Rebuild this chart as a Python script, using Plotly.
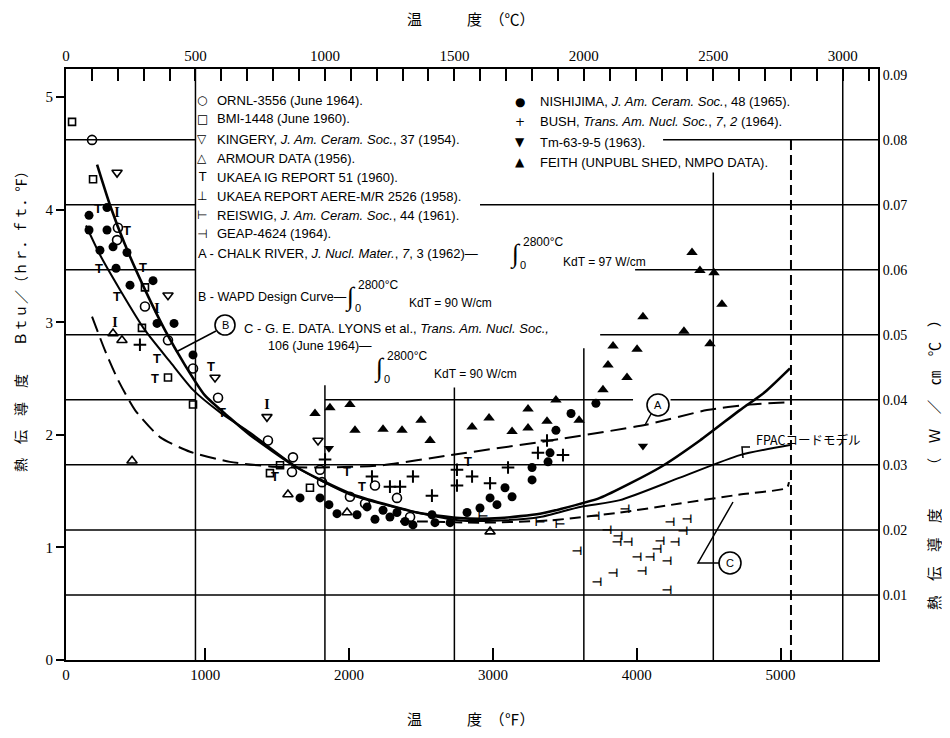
import plotly.graph_objects as go

# ---------------- data: temperature (°F), conductivity (Btu/(hr·ft·°F)) ----------------
ornl_f = [213, 393, 387, 581, 741, 915, 1089, 1436, 1610, 1603, 1798, 1812, 2006, 2111, 2180, 2333, 2424]
ornl_k = [4.62, 3.84, 3.73, 3.14, 2.84, 2.59, 2.33, 1.95, 1.80, 1.67, 1.69, 1.58, 1.45, 1.39, 1.55, 1.44, 1.27]

bmi_f = [74, 220, 581, 560, 741, 915, 1450, 1520, 1728]
bmi_k = [4.78, 4.27, 3.31, 2.95, 2.51, 2.27, 1.66, 1.73, 1.53]

kingery_f = [387, 741, 1068, 1429, 1784]
kingery_k = [4.33, 3.24, 2.51, 2.16, 1.95]

armour_f = [359, 421, 491, 1575, 1986, 2980]
armour_k = [2.90, 2.84, 1.77, 1.47, 1.31, 1.14]

ukaea_ig_f = [254, 456, 261, 567, 387, 665, 651, 1040, 1117, 1485, 1986, 2090, 2827]
ukaea_ig_k = [4.00, 3.80, 3.47, 3.48, 3.22, 2.67, 2.49, 2.60, 2.19, 1.62, 1.66, 1.53, 1.75]

ukaea_rep_f = [387, 665, 373, 1429]
ukaea_rep_k = [3.97, 3.11, 2.99, 2.26]

reiswig_f = [2931, 3327, 3466]
reiswig_k = [1.27, 1.22, 1.20]

geap_f = [3918, 3793, 3869, 3862, 3939, 4231, 4349, 4321, 4161, 4266, 4141, 4002, 4092, 4210,
          4036, 3835, 3723, 4210, 3585, 3710]
geap_k = [1.33, 1.15, 1.09, 1.04, 1.04, 1.22, 1.24, 1.14, 1.05, 1.04, 0.98, 0.91, 0.91, 0.87,
          0.78, 0.76, 0.68, 0.61, 0.96, 1.27]

nishijima_f = [192, 192, 317, 317, 268, 359, 456, 380, 477, 637, 665, 783, 915, 1659, 1798, 1860,
               1916, 2055, 2125, 2180, 2236, 2284, 2333, 2389, 2444, 2576, 2597, 2702, 2820, 2910,
               2980, 3028, 3084, 3133, 3272, 3272, 3383, 3397, 3438, 3543, 3716]
nishijima_k = [3.95, 3.82, 4.02, 3.82, 3.64, 3.67, 3.62, 3.48, 3.33, 3.37, 2.99, 2.99, 2.71, 1.44,
               1.44, 1.38, 1.30, 1.29, 1.36, 1.25, 1.33, 1.27, 1.31, 1.23, 1.20, 1.29, 1.22, 1.22,
               1.31, 1.35, 1.44, 1.38, 1.53, 1.45, 1.60, 1.71, 1.76, 1.84, 2.04, 2.19, 2.28]

bush_f = [546, 1833, 2159, 2444, 2576, 2284, 2354, 2750, 2750, 2855, 2980, 3105, 3313, 3376, 3487]
bush_k = [2.80, 1.78, 1.63, 1.63, 1.46, 1.54, 1.54, 1.69, 1.55, 1.63, 1.57, 1.71, 1.84, 1.95, 1.82]

tm_f = [1860, 4043]
tm_k = [1.88, 1.90]

feith_f = [1763, 1867, 2006, 2041, 2236, 2368, 2500, 2563, 2855, 2973, 3133, 3244, 3244, 3376,
           3438, 3599, 3765, 3800, 3932, 3835, 4002, 4043, 4328, 4509, 4384, 4439, 4537, 4592]
feith_k = [2.19, 2.24, 2.27, 2.04, 2.05, 2.04, 2.13, 1.95, 2.07, 2.15, 2.03, 2.23, 2.06, 2.12,
           2.31, 2.13, 2.40, 2.62, 2.51, 2.79, 2.76, 3.05, 2.92, 2.81, 3.62, 3.46, 3.44, 3.16]

# curves
curve_b_f = [248, 338, 442, 581, 720, 859, 998, 1172, 1311, 1638, 2006, 2472, 2771, 3049, 3327,
             3466, 3744, 4161, 4439, 4717, 4891, 5065]
curve_b_k = [4.40, 4.04, 3.69, 3.29, 2.93, 2.62, 2.35, 2.15, 2.00, 1.71, 1.48, 1.31, 1.26, 1.26,
             1.30, 1.34, 1.44, 1.71, 1.95, 2.22, 2.38, 2.59]

fpac_f = [171, 268, 407, 581, 755, 915, 1103, 1311, 1638, 2006, 2472, 2771, 3049, 3327, 3605,
          3883, 4300, 4717, 5065]
fpac_k = [3.86, 3.60, 3.29, 2.93, 2.65, 2.40, 2.20, 2.02, 1.71, 1.47, 1.31, 1.24, 1.24, 1.27,
          1.36, 1.42, 1.62, 1.82, 1.91]

curve_a_f = [213, 303, 393, 512, 685, 894, 1172, 1450, 1798, 2229, 2702, 3397, 4064, 4488, 4787, 5065]
curve_a_k = [3.05, 2.75, 2.49, 2.22, 1.98, 1.85, 1.76, 1.72, 1.71, 1.73, 1.82, 1.95, 2.09, 2.22, 2.27, 2.29]

curve_c_f = [2354, 2542, 2910, 3397, 3883, 4300, 4717, 5044, 5058]
curve_c_k = [1.23, 1.23, 1.22, 1.24, 1.31, 1.39, 1.47, 1.53, 1.58]

# axes
F_MIN, F_MAX = 32, 5677
K_MAX = 5.25
BTU_TO_W = 0.017307
f_ticks = [32, 1000, 2000, 3000, 4000, 5000]
f_ticktext = ["0", "1000", "2000", "3000", "4000", "5000"]
c_ticks = [0, 500, 1000, 1500, 2000, 2500, 3000]
k_ticks = [0, 1, 2, 3, 4, 5]
w_ticks = [0.01, 0.02, 0.03, 0.04, 0.05, 0.06, 0.07, 0.08, 0.09]
w_ticktext = ["0.01", "0.02", "0.03", "0.04", "0.05", "0.06", "0.07", "0.08", "0.09"]

C_MAX = (F_MAX - 32) / 1.8

# ---------------- figure ----------------
# the page body has an 8px default margin; plot area on screen: x 66..878, y 69..660
BODY = 8
W, H = 950 - BODY, 738 - BODY
PL, PR, PT, PB = 66, 878, 69, 660
ML, MT = PL - BODY, PT - BODY
MR, MB = (W + BODY) - PR, (H + BODY) - PB


def px(x):
    return (x - PL) / (PR - PL)


def py(y):
    return (PB - y) / (PB - PT)


fig = go.Figure()

BLACK = "#000000"


def marker_trace(xs, ys, symbol, size, filled=True, lw=1.6):
    fig.add_trace(go.Scatter(
        x=xs, y=ys, mode="markers", showlegend=False, hoverinfo="skip",
        marker=dict(symbol=symbol, size=size, color=BLACK,
                    line=dict(color=BLACK, width=lw if not filled else 0))))


def text_trace(xs, ys, ch, size, family="Liberation Sans"):
    fig.add_trace(go.Scatter(
        x=xs, y=ys, mode="text", text=[ch] * len(xs), showlegend=False, hoverinfo="skip",
        textposition="middle center",
        marker=dict(color=BLACK),
        textfont=dict(family=family, size=size, color=BLACK, weight="bold")))


def line_trace(xs, ys, width, dash="solid"):
    fig.add_trace(go.Scatter(
        x=xs, y=ys, mode="lines", showlegend=False, hoverinfo="skip",
        line=dict(color=BLACK, width=width, dash=dash, shape="spline", smoothing=0.6)))


# curves
line_trace(curve_b_f, curve_b_k, 2.6)
line_trace(fpac_f, fpac_k, 2.0)
line_trace(curve_a_f, curve_a_k, 2.0, "16px,7px")
line_trace(curve_c_f, curve_c_k, 2.0, "11px,6px")

# markers
marker_trace(ornl_f, ornl_k, "circle-open", 9, filled=False)
marker_trace(bmi_f, bmi_k, "square-open", 7, filled=False)
marker_trace(kingery_f, kingery_k, "triangle-down-open", 9, filled=False)
marker_trace(armour_f, armour_k, "triangle-up-open", 9, filled=False)
text_trace(ukaea_ig_f, ukaea_ig_k, "T", 13)
text_trace(ukaea_rep_f, ukaea_rep_k, "I", 14, "Liberation Serif")
text_trace(reiswig_f, reiswig_k, "⊢", 12, "DejaVu Sans")
text_trace(geap_f, geap_k, "⊣", 12, "DejaVu Sans")
marker_trace(nishijima_f, nishijima_k, "circle", 9)
marker_trace(bush_f, bush_k, "cross-thin-open", 9, filled=False, lw=2)
marker_trace(tm_f, tm_k, "triangle-down", 9)
marker_trace(feith_f, feith_k, "triangle-up", 10)

# ---------------- grid (drawn as segments, as in the original) ----------------
GRID_W = 1.5
full_v = [500, 3000]
partial_v = [(1000, 2.44), (1500, 2.42), (2000, 2.77), (2500, 4.33)]
for c in full_v:
    fig.add_shape(type="line", xref="x2", yref="y", x0=c, x1=c, y0=0, y1=K_MAX,
                  line=dict(color=BLACK, width=GRID_W), layer="below")
for c, top in partial_v:
    fig.add_shape(type="line", xref="x2", yref="y", x0=c, x1=c, y0=0, y1=top,
                  line=dict(color=BLACK, width=GRID_W), layer="below")
fig.add_shape(type="line", xref="x2", yref="y", x0=2800, x1=2800, y0=0, y1=4.65,
              line=dict(color=BLACK, width=2, dash="10px,5px"), layer="below")

h_segments = {
    0.08: [(0, 500), (2306, C_MAX)],
    0.07: [(0, 500), (1599, C_MAX)],
    0.06: [(0, 500), (2198, C_MAX)],
    0.05: [(0, 500), (2063, C_MAX)],
    0.04: [(0, 500), (1000, 2190), (2335, C_MAX)],
    0.03: [(0, C_MAX)],
    0.02: [(0, C_MAX)],
    0.01: [(0, C_MAX)],
}
for w, segs in h_segments.items():
    for a, b in segs:
        fig.add_shape(type="line", xref="x2", yref="y2", x0=a, x1=b, y0=w, y1=w,
                      line=dict(color=BLACK, width=GRID_W), layer="below")


# ---------------- text helpers ----------------
def txt(x, y, s, size=13, anchor="left", family="Liberation Sans", angle=0, yanchor="middle"):
    fig.add_annotation(x=px(x), y=py(y), xref="paper", yref="paper", text=s, showarrow=False,
                       xanchor=anchor, yanchor=yanchor, textangle=angle,
                       font=dict(family=family, size=size, color=BLACK))


def seg(points, width=1.5):
    path = "M " + " L ".join(f"{px(a)},{py(b)}" for a, b in points)
    fig.add_shape(type="path", xref="paper", yref="paper", path=path,
                  line=dict(color=BLACK, width=width), layer="above")


def circ_label(cx, cy, r, s):
    fig.add_shape(type="circle", xref="paper", yref="paper",
                  x0=px(cx - r), x1=px(cx + r), y0=py(cy + r), y1=py(cy - r),
                  line=dict(color=BLACK, width=1.6), fillcolor="white", layer="above")
    txt(cx, cy, s, 11, "center")


def integral(x, y, upper="2800°C", lower="0"):
    txt(x, y, "∫", 26, "center", "Liberation Serif")
    txt(x + 6, y - 12, upper, 12, "left")
    txt(x + 3, y + 11, lower, 11, "left")


# legend block (left column)
SYM = "DejaVu Sans"
left_rows = [
    (100, "○", "ORNL-3556 (June 1964)."),
    (119, "□", "BMI-1448 (June 1960)."),
    (139, "▽", "KINGERY, <i>J. Am. Ceram. Soc.</i>, 37 (1954)."),
    (158, "△", "ARMOUR DATA (1956)."),
    (177, "T", "UKAEA IG REPORT 51 (1960)."),
    (196, "⊥", "UKAEA REPORT AERE-M/R 2526 (1958)."),
    (215, "⊢", "REISWIG, <i>J. Am. Ceram. Soc.</i>, 44 (1961)."),
    (234, "⊣", "GEAP-4624 (1964)."),
]
for y, sym, s in left_rows:
    txt(202, y, sym, 12, "center", SYM)
    txt(215, y, s, 13)

right_rows = [
    (102, "●", "NISHIJIMA, <i>J. Am. Ceram. Soc.</i>, 48 (1965)."),
    (122, "+", "BUSH, <i>Trans. Am. Nucl. Soc.</i>, <i>7</i>, <i>2</i> (1964)."),
    (142, "▼", "Tm-63-9-5 (1963)."),
    (162, "▲", "FEITH (UNPUBL SHED, NMPO DATA)."),
]
for y, sym, s in right_rows:
    txt(520, y, sym, 12, "center", SYM)
    txt(538, y, s, 13)

# curve descriptions
txt(196, 253, "A - CHALK RIVER, <i>J. Nucl. Mater.</i>, <i>7</i>, 3 (1962)—", 13)
integral(515, 254)
txt(561, 262, "KdT = 97 W/cm", 12)

txt(196, 297, "B - WAPD Design Curve—", 12.5)
integral(350, 297)
txt(407, 303, "KdT = 90 W/cm", 12)

txt(242, 328, "C - G. E. DATA. LYONS et al., <i>Trans. Am. Nucl. Soc.,</i>", 13)
txt(266, 346, "106 (June 1964)—", 12.5)
integral(379, 368)
txt(432, 374, "KdT = 90 W/cm", 12)

# circled labels + leaders
seg([(216, 331), (176, 352)])
circ_label(225, 325, 10, "B")
seg([(651, 414), (645, 425)])
circ_label(658, 405, 11, "A")
seg([(719, 563), (698, 563), (733, 502)])
circ_label(730, 563, 11, "C")
seg([(750, 447), (742, 447), (743, 458)], 1.5)
txt(754, 440, "FPACコードモデル", 12.5, "left", "Noto Sans CJK JP")

# axis titles
CJK = "Noto Sans CJK JP"
txt(405, 18, "温　　　度　（℃）", 15, "left", CJK)
txt(405, 718, "温　　　度　（℉）", 15, "left", CJK)
txt(20, 318, "熱　伝　導　度　　Ｂｔｕ／（ｈｒ．ｆｔ．℉）", 14, "center", CJK, -90)
txt(933, 461, "熱　伝　導　度　　　（　Ｗ　／　㎝　℃　）", 14.5, "center", CJK, -90)

TICKFONT = dict(family="Liberation Serif", size=15, color=BLACK)

fig.update_layout(
    width=W, height=H,
    margin=dict(l=ML, r=MR, t=MT, b=MB, pad=0),
    paper_bgcolor="white", plot_bgcolor="white",
    showlegend=False,
    xaxis=dict(range=[F_MIN, F_MAX], tickvals=f_ticks, ticktext=f_ticktext,
               ticks="inside", ticklen=12, tickwidth=1.6, tickcolor=BLACK,
               showline=True, linecolor=BLACK, linewidth=2, showgrid=False, zeroline=False,
               tickfont=TICKFONT),
    xaxis2=dict(range=[0, C_MAX], overlaying="x", side="top", anchor="y",
                tickvals=c_ticks, ticks="inside", ticklen=12, tickwidth=1.6, tickcolor=BLACK,
                minor=dict(ticks="inside", ticklen=12, dtick=100, tick0=0, tickwidth=1.6,
                           tickcolor=BLACK, showgrid=False),
                showline=True, linecolor=BLACK, linewidth=2, showgrid=False, zeroline=False,
                tickfont=TICKFONT),
    yaxis=dict(range=[0, K_MAX], tickvals=k_ticks, ticks="outside", ticklen=8, tickwidth=1.6,
               tickcolor=BLACK, showline=True, linecolor=BLACK, linewidth=2, showgrid=False,
               zeroline=False, tickfont=TICKFONT),
    yaxis2=dict(range=[0, K_MAX * BTU_TO_W], overlaying="y", side="right", anchor="x",
                tickvals=w_ticks, ticktext=w_ticktext, ticks="", showline=True,
                linecolor=BLACK, linewidth=2, showgrid=False, zeroline=False,
                tickfont=dict(family="Liberation Serif", size=14, color=BLACK)),
)

fig.write_html("out.html")
